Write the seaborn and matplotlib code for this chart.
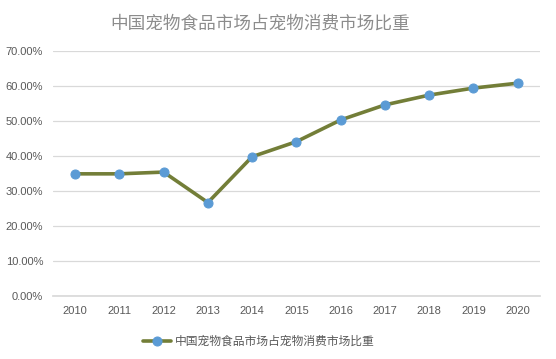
import matplotlib
matplotlib.use("Agg")
import matplotlib.pyplot as plt
import seaborn as sns
import pandas as pd
from matplotlib.ticker import FuncFormatter, MultipleLocator

years = [2010, 2011, 2012, 2013, 2014, 2015, 2016, 2017, 2018, 2019, 2020]
share = [0.349, 0.349, 0.354, 0.267, 0.398, 0.441, 0.503, 0.546, 0.574, 0.594, 0.608]
series_name = "中国宠物食品市场占宠物消费市场比重"
title = "中国宠物食品市场占宠物消费市场比重"

sns.set_theme(style="white")
plt.rcParams['font.family'] = ['Noto Sans CJK SC', 'DejaVu Sans']

df = pd.DataFrame({"year": years, "share": share})

fig = plt.figure(figsize=(5.56, 3.59), dpi=100)
ax = fig.add_axes([0.0953, 0.1755, 0.8757, 0.6825])

sns.lineplot(data=df, x="year", y="share", ax=ax, color="#737E38", linewidth=2.6,
             marker="o", markersize=6.5, markerfacecolor="#5B9BD5", markeredgecolor="#5B9BD5",
             label=series_name)

ax.set_xlim(2009.5, 2020.5)
ax.set_ylim(0, 0.70)
ax.yaxis.set_major_locator(MultipleLocator(0.10))
ax.yaxis.set_major_formatter(FuncFormatter(lambda v, p: f"{v*100:.2f}%"))
ax.set_xticks(years)
ax.set_xticklabels([str(y) for y in years])
ax.grid(axis="y", color="#D9D9D9", linewidth=0.9)
ax.set_axisbelow(True)
for s in ["top", "right", "left"]:
    ax.spines[s].set_visible(False)
ax.spines["bottom"].set_color("#D9D9D9")
ax.set_xlabel("")
ax.set_ylabel("")
ax.tick_params(axis="both", length=0, labelsize=8, labelcolor="#595959", pad=7)
for lab in ax.get_xticklabels() + ax.get_yticklabels():
    lab.set_family(['Liberation Sans', 'DejaVu Sans'])

fig.text(0.468, 0.935, title, ha="center", va="center", fontsize=12.7,
         color="#8C8C8C", fontweight="light")

leg = ax.legend(loc="upper center", bbox_to_anchor=(0.423, -0.115), frameon=False,
                fontsize=8.5, handlelength=2.4, handletextpad=0.3)
for t in leg.get_texts():
    t.set_color("#595959")

fig.savefig("out.png", dpi=100)
